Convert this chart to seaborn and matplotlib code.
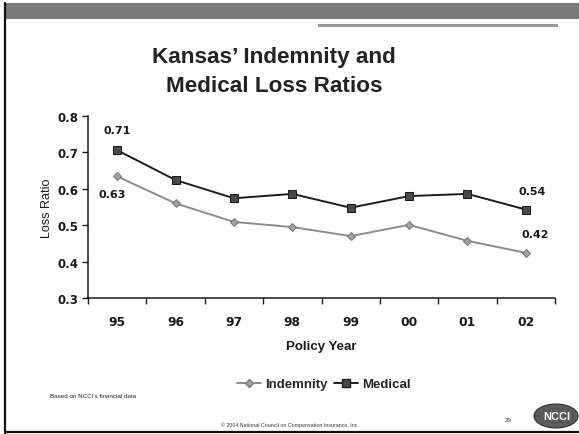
import matplotlib
matplotlib.use("Agg")
import matplotlib.pyplot as plt
from matplotlib.lines import Line2D
from matplotlib.patches import Rectangle, Ellipse
import seaborn as sns
import pandas as pd

# Policy years and loss ratios
years = ["95", "96", "97", "98", "99", "00", "01", "02"]
indemnity = [0.634, 0.560, 0.509, 0.495, 0.470, 0.501, 0.457, 0.424]
medical = [0.706, 0.624, 0.574, 0.586, 0.548, 0.580, 0.586, 0.543]
y_ticks = [0.3, 0.4, 0.5, 0.6, 0.7, 0.8]

# Points that carry value labels: (series, year index, offset in pixels)
labelled = [("Medical", 0, (0, 20)), ("Indemnity", 0, (-5, -18)),
            ("Medical", 7, (6, 19)), ("Indemnity", 7, (9, 19))]

sns.set_theme(style="white")
plt.rcParams["font.family"] = ["Liberation Sans", "DejaVu Sans"]
NUM_FONT = "DejaVu Sans"
INK = "#1a1a1a"

df = pd.DataFrame({
    "idx": list(range(len(years))) * 2,
    "Year": years * 2,
    "Loss Ratio": indemnity + medical,
    "Series": ["Indemnity"] * len(years) + ["Medical"] * len(years),
})

W, H = 579, 435
fig = plt.figure(figsize=(W / 100, H / 100), dpi=100)
fig.patch.set_facecolor("white")

# slide decoration: header band and frame
fig.patches.append(Rectangle((5 / W, 1 - 20 / H), 1 - 5 / W, 16 / H,
                             transform=fig.transFigure, facecolor="#7a7a7a",
                             edgecolor="none", zorder=0))
fig.patches.append(Rectangle((318 / W, 1 - 28 / H), 240 / W, 3 / H,
                             transform=fig.transFigure, facecolor="#9a9a9a",
                             edgecolor="none", zorder=0))
fig.add_artist(Line2D([5 / W, 5 / W], [0, 1 - 4 / H], transform=fig.transFigure,
                      color="#111111", lw=1.6))
fig.add_artist(Line2D([5 / W, 1], [2 / H, 2 / H], transform=fig.transFigure,
                      color="#111111", lw=1.6))

ax = fig.add_axes([88 / W, 1 - 299 / H, (555 - 88) / W, (299 - 117) / H])

palette = {"Indemnity": "#8c8c8c", "Medical": "#1c1c1c"}
markers = {"Indemnity": "D", "Medical": "s"}
sns.lineplot(data=df, x="idx", y="Loss Ratio", hue="Series", style="Series",
             palette=palette, markers=markers, dashes=False, ax=ax,
             linewidth=1.4, markersize=5, legend=False)
for line, name in zip(ax.lines, ["Indemnity", "Medical"]):
    if name == "Indemnity":
        line.set_markersize(4)
        line.set_markerfacecolor("#a0a0a0")
        line.set_markeredgecolor("#7a7a7a")
    else:
        line.set_markersize(5.5)
        line.set_markerfacecolor("#4a4a4a")
        line.set_markeredgecolor("#1c1c1c")

values = {"Indemnity": indemnity, "Medical": medical}
for name, i, off in labelled:
    v = values[name][i]
    ax.annotate(f"{v:.2f}", (i, v), xytext=off, textcoords="offset pixels",
                ha="center", va="center", fontsize=8, fontweight="bold",
                family=NUM_FONT, color=INK)

ax.set_xlim(-0.5, len(years) - 0.5)
ax.set_ylim(y_ticks[0], y_ticks[-1])
ax.set_xticks(range(len(years)))
ax.set_xticklabels(years, fontsize=8.8, fontweight="bold", family=NUM_FONT,
                   color=INK)
ax.set_xticks([i - 0.5 for i in range(len(years) + 1)], minor=True)
ax.tick_params(axis="x", which="major", length=0, pad=12)
ax.tick_params(axis="x", which="minor", length=4, width=1, direction="out",
               color=INK, bottom=True)
ax.set_yticks(y_ticks)
ax.set_yticklabels([f"{t:.1f}" for t in y_ticks], fontsize=8.5,
                   fontweight="bold", family=NUM_FONT, color=INK)
ax.tick_params(axis="y", length=4, width=1, direction="out", color=INK,
               left=True, pad=3)
ax.set_xlabel("Policy Year", fontsize=9.5, fontweight="bold", color=INK,
              labelpad=9)
ax.set_ylabel("Loss Ratio", fontsize=9, fontweight="normal", color=INK,
              labelpad=3)
sns.despine(ax=ax)
for s in ("left", "bottom"):
    ax.spines[s].set_color(INK)
    ax.spines[s].set_linewidth(1.1)
ax.set_facecolor("white")

# title
fig.text(274 / W, 1 - 63 / H, "Kansas\u2019 Indemnity and", ha="center",
         va="baseline", fontsize=16.2, fontweight="bold", color="#222222")
fig.text(274 / W, 1 - 92 / H, "Medical Loss Ratios", ha="center",
         va="baseline", fontsize=16.2, fontweight="bold", color="#222222")

# legend
handles = [Line2D([], [], color="#8c8c8c", marker="D", markersize=4,
                  markerfacecolor="#a0a0a0", markeredgecolor="#7a7a7a", lw=1.4),
           Line2D([], [], color="#1c1c1c", marker="s", markersize=5.5,
                  markerfacecolor="#4a4a4a", markeredgecolor="#1c1c1c", lw=1.4)]
fig.legend(handles, ["Indemnity", "Medical"], loc="center",
           bbox_to_anchor=(324 / W, 1 - 385 / H), ncol=2, frameon=False,
           handlelength=1.8, handletextpad=0.3, columnspacing=0.5,
           prop={"weight": "bold", "size": 9.5})

# footer
fig.text(50 / W, 1 - 397 / H, "Based on NCCI\u2019s financial data",
         fontsize=4.5, va="center", color="#222222")
fig.text(290 / W, 1 - 425 / H,
         "\u00a9 2004 National Council on Compensation Insurance, Inc.",
         fontsize=3.8, ha="center", va="center", color="#333333")
fig.text(508 / W, 1 - 421 / H, "29", fontsize=4.5, ha="center", va="center",
         color="#333333")
fig.patches.append(Ellipse((556 / W, 1 - 417 / H), 44 / W, 24 / H,
                           transform=fig.transFigure, facecolor="#5a5a5a",
                           edgecolor="#333333", lw=0.8))
fig.text(557 / W, 1 - 417 / H, "NCCI", fontsize=8, ha="center", va="center",
         color="white", fontweight="bold")

fig.savefig("out.png", dpi=100)
